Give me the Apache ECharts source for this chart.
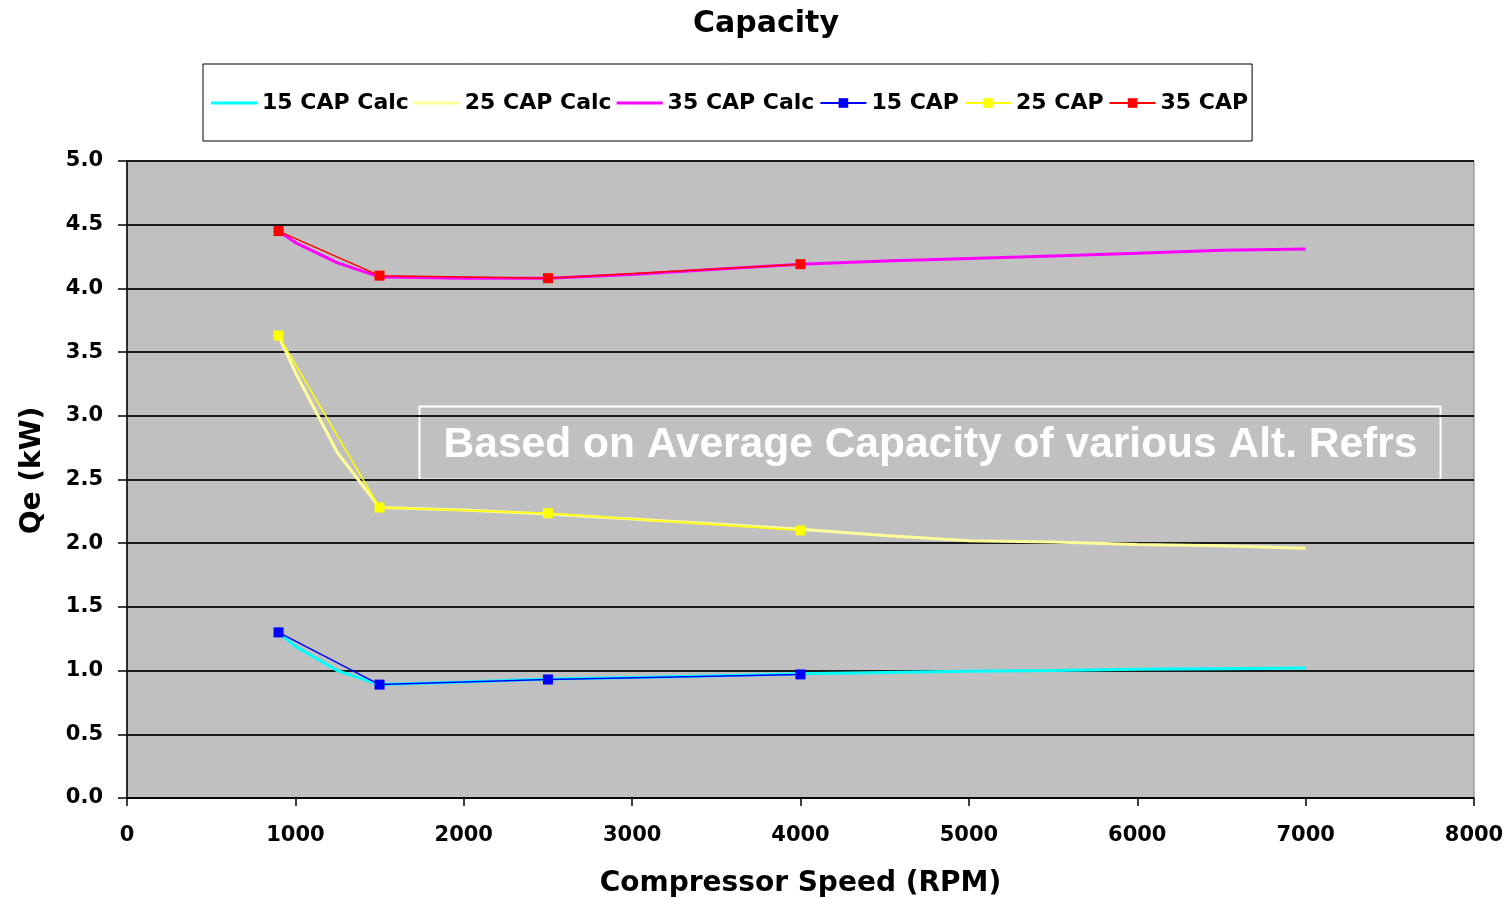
<!DOCTYPE html>
<html>
<head>
<meta charset="utf-8">
<title>Capacity</title>
<script src="https://cdn.jsdelivr.net/npm/echarts@6/dist/echarts.min.js"></script>
<style>
  html, body { margin: 0; padding: 0; background: #ffffff; }
  #chart { width: 1512px; height: 899px; }
</style>
</head>
<body>
<div id="chart"></div>
<script>
// Compressor speeds (RPM) for the calculated curves
const calcRpm = [900, 1000, 1250, 1500, 2000, 2500, 3000, 3500, 4000, 4500, 5000, 5500, 6000, 6500, 7000];
// Calculated capacity Qe (kW)
const cap15Calc = [1.30, 1.19, 1.00, 0.89, 0.91, 0.935, 0.945, 0.96, 0.975, 0.985, 0.995, 1.00, 1.01, 1.015, 1.02];
const cap25Calc = [3.63, 3.34, 2.71, 2.28, 2.26, 2.23, 2.19, 2.15, 2.11, 2.06, 2.02, 2.01, 1.99, 1.98, 1.96];
const cap35Calc = [4.45, 4.36, 4.20, 4.09, 4.08, 4.08, 4.11, 4.15, 4.19, 4.215, 4.235, 4.255, 4.275, 4.30, 4.31];

// Measured points
const measRpm = [900, 1500, 2500, 4000];
const cap15 = [1.30, 0.89, 0.93, 0.97];
const cap25 = [3.63, 2.28, 2.235, 2.10];
const cap35 = [4.45, 4.10, 4.08, 4.19];

// Axis ticks
const xTicks = [0, 1000, 2000, 3000, 4000, 5000, 6000, 7000, 8000];
const yTicks = [0.0, 0.5, 1.0, 1.5, 2.0, 2.5, 3.0, 3.5, 4.0, 4.5, 5.0];

const seriesNames = ['15 CAP Calc', '25 CAP Calc', '35 CAP Calc', '15 CAP', '25 CAP', '35 CAP'];
const noteText = 'Based on Average Capacity of various Alt. Refrs';

const pairs = (xs, ys) => xs.map((x, i) => [x, ys[i]]);
const FONT = 'DejaVu Sans';
// plain bar used as legend key for the calculated curves
const BAR_ICON = 'path://M0,0 H46 V3 H0 Z';

function calcSeries(name, xs, ys, color) {
  return {
    name, type: 'line', data: pairs(xs, ys),
    symbol: 'none', smooth: false, z: 2,
    lineStyle: { color, width: 3 },
    itemStyle: { color }
  };
}
function measSeries(name, xs, ys, color) {
  return {
    name, type: 'line', data: pairs(xs, ys),
    symbol: 'rect', symbolSize: 10, z: 3,
    lineStyle: { color, width: 1.5 },
    itemStyle: { color }
  };
}

const chart = echarts.init(document.getElementById('chart'), null, { renderer: 'canvas' });

chart.setOption({
  animation: false,
  backgroundColor: '#ffffff',
  title: {
    text: 'Capacity',
    left: 688, top: 4,
    textStyle: { fontFamily: FONT, fontWeight: 'bold', fontSize: 30, color: '#000' }
  },
  legend: {
    data: seriesNames.map((n, i) => i < 3 ? { name: n, icon: BAR_ICON } : { name: n }),
    left: 203, top: 64,
    padding: [28, 4, 27, 8],
    itemGap: 5,
    itemWidth: 46,
    itemHeight: 12,
    backgroundColor: '#ffffff',
    borderColor: '#000000',
    borderWidth: 1,
    borderRadius: 0,
    textStyle: { fontFamily: FONT, fontWeight: 'bold', fontSize: 22, color: '#000' }
  },
  grid: {
    left: 127, top: 161, right: 38, bottom: 101,
    outerBoundsMode: 'none',
    containLabel: false,
    show: true,
    backgroundColor: '#C0C0C0',
    borderColor: '#808080',
    borderWidth: 1
  },
  xAxis: {
    type: 'value',
    min: xTicks[0], max: xTicks[xTicks.length - 1], interval: 1000,
    name: 'Compressor Speed (RPM)',
    nameLocation: 'middle',
    nameGap: 72,
    nameTextStyle: { fontFamily: FONT, fontWeight: 'bold', fontSize: 28, color: '#000' },
    axisLine: { show: true, lineStyle: { color: '#000', width: 1.5 } },
    axisTick: { show: true, inside: false, length: 8, lineStyle: { color: '#000', width: 1.5 } },
    axisLabel: {
      margin: 27, fontFamily: FONT, fontWeight: 'bold', fontSize: 21, color: '#000',
      formatter: v => String(v)
    },
    splitLine: { show: false }
  },
  yAxis: {
    type: 'value',
    min: yTicks[0], max: yTicks[yTicks.length - 1], interval: 0.5,
    name: 'Qe (kW)',
    nameLocation: 'middle',
    nameGap: 80,
    nameTextStyle: {
      fontFamily: FONT, fontWeight: 'bold', fontSize: 28, color: '#000',
      padding: [0, 0, 0, 18]
    },
    axisLine: { show: true, lineStyle: { color: '#000', width: 1.5 } },
    axisTick: { show: true, inside: false, length: 9, lineStyle: { color: '#000', width: 1.5 } },
    axisLabel: {
      margin: 24, fontFamily: FONT, fontWeight: 'bold', fontSize: 21, color: '#000',
      formatter: v => v.toFixed(1)
    },
    splitLine: { show: true, lineStyle: { color: '#1a1a1a', width: 1.8 } }
  },
  graphic: [{
    type: 'group',
    left: 417, top: 404,
    children: [
      {
        type: 'rect',
        shape: { x: 0, y: 0, width: 1021, height: 73 },
        style: { fill: 'none', stroke: '#ffffff', lineWidth: 2 }
      },
      {
        type: 'text',
        x: 511, y: 39,
        style: {
          text: noteText,
          fill: '#ffffff',
          font: 'bold 42.5px "Liberation Sans", Arial, sans-serif',
          align: 'center', verticalAlign: 'middle'
        }
      }
    ]
  }],
  series: [
    calcSeries(seriesNames[0], calcRpm, cap15Calc, '#00FFFF'),
    calcSeries(seriesNames[1], calcRpm, cap25Calc, '#FFFF99'),
    calcSeries(seriesNames[2], calcRpm, cap35Calc, '#FF00FF'),
    measSeries(seriesNames[3], measRpm, cap15, '#0000FF'),
    measSeries(seriesNames[4], measRpm, cap25, '#FFFF00'),
    measSeries(seriesNames[5], measRpm, cap35, '#FF0000')
  ]
});
</script>
</body>
</html>
